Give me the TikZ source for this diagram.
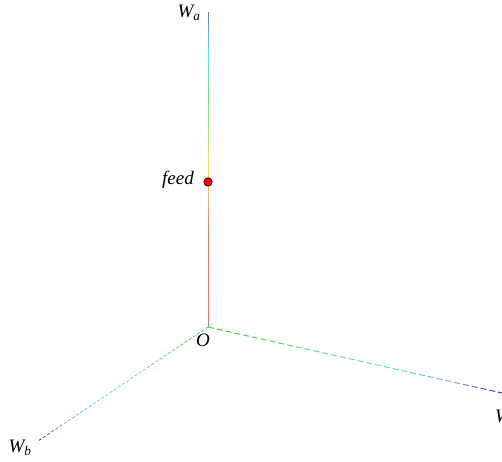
\documentclass[tikz,border=0pt]{standalone}
\usepackage{amsmath}
\usepackage{fontspec}
\setmainfont{Liberation Serif}
\usepackage{xcolor}
\usetikzlibrary{calc}
% colour stops along the axes
\definecolor{vA}{RGB}{236,108,112}
\definecolor{vB}{RGB}{240,120,115}
\definecolor{vC}{RGB}{246,180,110}
\definecolor{vD}{RGB}{240,228,100}
\definecolor{vE}{RGB}{100,228,120}
\definecolor{vF}{RGB}{90,228,232}
\definecolor{vG}{RGB}{108,108,232}
\definecolor{hA}{RGB}{40,220,40}
\definecolor{hB}{RGB}{110,228,140}
\definecolor{hC}{RGB}{70,228,228}
\definecolor{hD}{RGB}{120,176,240}
\definecolor{hE}{RGB}{40,40,222}
\newcommand\vstops{0/vA/0.3/vB, 0.3/vB/0.42/vC, 0.42/vC/0.5/vD, 0.5/vD/0.73/vE, 0.73/vE/0.87/vF, 0.87/vF/1/vG}
\newcommand\hstops{0/hA/0.45/hB, 0.45/hB/0.65/hC, 0.65/hC/0.82/hD, 0.82/hD/1/hE}
% picks the colour segcol at position #1 of the stop list #2
\newcommand\pickcol[2]{%
  \foreach \sa/\ca/\sb/\cb in #2{%
    \ifdim #1pt<\sa pt\else\ifdim #1pt>\sb pt\else
      \pgfmathtruncatemacro\mixp{100*(#1-\sa)/(\sb-\sa)}%
      \xglobal\colorlet{segcol}{\cb!\mixp!\ca}%
    \fi\fi}}
\tikzset{
    axlab/.style={font=\fontsize{19}{19}\selectfont\itshape, inner sep=0pt},
    feeddot/.style={circle, draw=black, fill=red, inner sep=0pt, minimum size=8.5pt, line width=0.6pt},
}

\begin{document}
\begin{tikzpicture}[x=1pt,y=-1pt]
    \useasboundingbox (0,0) rectangle (502,461);
    \coordinate (O) at (208,327);
    \coordinate (A) at (208,12);
    \coordinate (B) at (38,441);
    \coordinate (C) at (502,393);

    % Wa axis
    \foreach \k in {0,...,62}{
      \pgfmathsetmacro\ta{\k/63}
      \pgfmathsetmacro\tb{(\k+1)/63}
      \pgfmathsetmacro\tm{(\k+0.5)/63}
      \pickcol{\tm}{\vstops}
      \draw[segcol, line width=1pt] ($(O)!\ta!(A)$) -- ($(O)!\tb!(A)$);
    }
    % Wc axis, dashed
    \foreach \k in {0,...,33}{
      \pgfmathsetmacro\ta{\k*9/301}
      \pgfmathsetmacro\tb{min(1,(\k*9+6)/301)}
      \pickcol{\ta}{\hstops}
      \draw[segcol, line width=1pt] ($(O)!\ta!(C)$) -- ($(O)!\tb!(C)$);
    }
    % Wb axis, dashed
    \foreach \k in {0,...,40}{
      \pgfmathsetmacro\ta{\k*5/204}
      \pgfmathsetmacro\tb{min(1,(\k*5+3)/204)}
      \pickcol{\ta}{\hstops}
      \draw[segcol, line width=0.8pt] ($(O)!\ta!(B)$) -- ($(O)!\tb!(B)$);
    }

    \node[axlab] (Wa) at (189,13) {$\textit{W}_{\textit{a}}$};
    \node[axlab] (Wb) at (20,448) {$\textit{W}_{\textit{b}}$};
    \node[axlab, anchor=west] (Wc) at (495,418) {$\textit{W}_{\textit{c}}$};
    \node[axlab] (Olab) at (203,340) {O};
    \node[feeddot] (feed) at (208,182) {};
    \node[axlab, anchor=east] (feedlab) at (194,180) {feed};
\end{tikzpicture}
\end{document}
